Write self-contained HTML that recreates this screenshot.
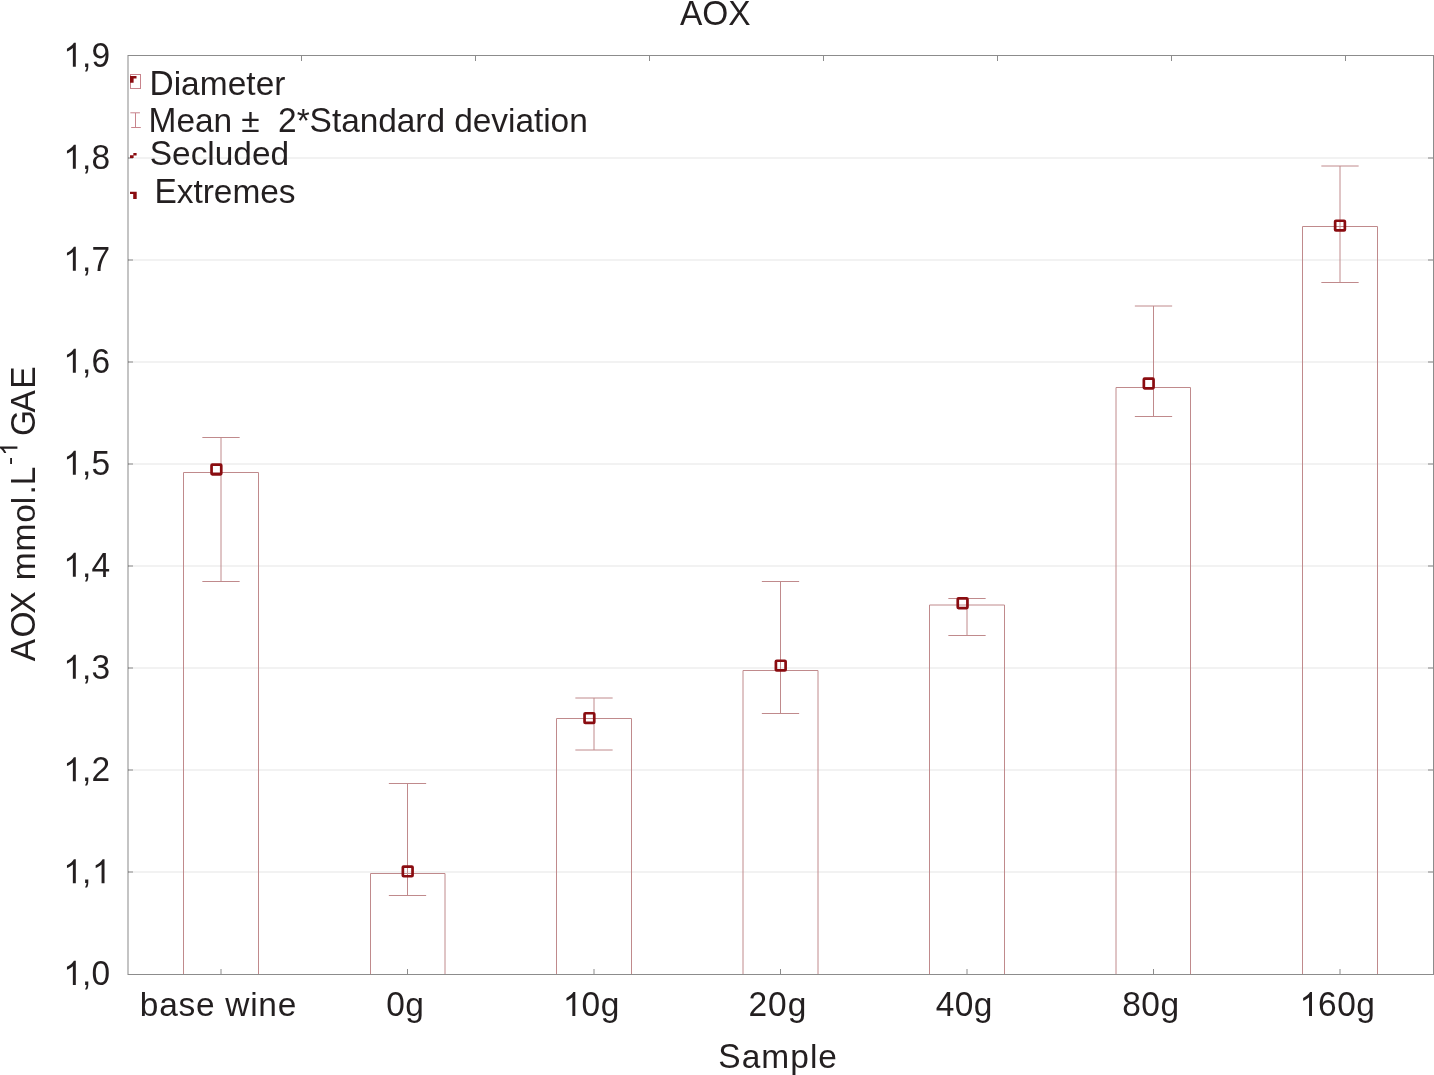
<!DOCTYPE html>
<html><head><meta charset="utf-8"><title>AOX</title>
<style>
html,body{margin:0;padding:0;background:#fff;width:1434px;height:1075px;overflow:hidden}
svg{position:absolute;left:0;top:0;will-change:transform}
.t text{font-family:"Liberation Sans",sans-serif;fill:#231f20}
</style></head><body>
<svg width="1434" height="1075" viewBox="0 0 1434 1075">
<rect x="0" y="0" width="1434" height="1075" fill="#fff"/>
<rect x="129" y="871" width="1304" height="2" fill="#f2f2f2"/>
<rect x="129" y="769" width="1304" height="2" fill="#f2f2f2"/>
<rect x="129" y="667" width="1304" height="2" fill="#f2f2f2"/>
<rect x="129" y="565" width="1304" height="2" fill="#f2f2f2"/>
<rect x="129" y="463" width="1304" height="2" fill="#f2f2f2"/>
<rect x="129" y="361" width="1304" height="2" fill="#f2f2f2"/>
<rect x="129" y="259" width="1304" height="2" fill="#f2f2f2"/>
<rect x="129" y="157" width="1304" height="2" fill="#f2f2f2"/>
<rect x="1428" y="871" width="5" height="2" fill="#bcbcbc"/>
<rect x="128" y="871" width="5" height="2" fill="#bebebe"/>
<rect x="1428" y="769" width="5" height="2" fill="#bcbcbc"/>
<rect x="128" y="769" width="5" height="2" fill="#bebebe"/>
<rect x="1428" y="667" width="5" height="2" fill="#bcbcbc"/>
<rect x="128" y="667" width="5" height="2" fill="#bebebe"/>
<rect x="1428" y="565" width="5" height="2" fill="#bcbcbc"/>
<rect x="128" y="565" width="5" height="2" fill="#bebebe"/>
<rect x="1428" y="463" width="5" height="2" fill="#bcbcbc"/>
<rect x="128" y="463" width="5" height="2" fill="#bebebe"/>
<rect x="1428" y="361" width="5" height="2" fill="#bcbcbc"/>
<rect x="128" y="361" width="5" height="2" fill="#bebebe"/>
<rect x="1428" y="259" width="5" height="2" fill="#bcbcbc"/>
<rect x="128" y="259" width="5" height="2" fill="#bebebe"/>
<rect x="1428" y="157" width="5" height="2" fill="#bcbcbc"/>
<rect x="128" y="157" width="5" height="2" fill="#bebebe"/>
<rect x="301" y="56" width="1" height="5" fill="#8c8c8c"/>
<rect x="475" y="56" width="1" height="5" fill="#8c8c8c"/>
<rect x="649" y="56" width="1" height="5" fill="#8c8c8c"/>
<rect x="823" y="56" width="1" height="5" fill="#8c8c8c"/>
<rect x="997" y="56" width="1" height="5" fill="#8c8c8c"/>
<rect x="1171" y="56" width="1" height="5" fill="#8c8c8c"/>
<rect x="1345" y="56" width="1" height="5" fill="#8c8c8c"/>
<path d="M183.50 974.5V472.5H258.50V974.5" fill="none" stroke="#c08a8c" stroke-width="1"/>
<path d="M202.35 437.5H239.65M202.35 581.5H239.65M221.0 437.5V581.5" fill="none" stroke="#c08a8c" stroke-width="1"/>
<path d="M221.0 969V974" stroke="#8c8c8c" stroke-width="1"/>
<path d="M370.50 974.5V873.5H445.00V974.5" fill="none" stroke="#c08a8c" stroke-width="1"/>
<path d="M388.85 783.5H426.15M388.85 895.5H426.15M407.5 783.5V895.5" fill="none" stroke="#c08a8c" stroke-width="1"/>
<path d="M407.5 969V974" stroke="#8c8c8c" stroke-width="1"/>
<path d="M556.50 974.5V718.5H631.50V974.5" fill="none" stroke="#c08a8c" stroke-width="1"/>
<path d="M575.35 698.0H612.65M575.35 750.0H612.65M594.0 698.0V750.0" fill="none" stroke="#c08a8c" stroke-width="1"/>
<path d="M594.0 969V974" stroke="#8c8c8c" stroke-width="1"/>
<path d="M743.00 974.5V670.5H818.00V974.5" fill="none" stroke="#c08a8c" stroke-width="1"/>
<path d="M761.85 581.5H799.15M761.85 713.5H799.15M780.5 581.5V713.5" fill="none" stroke="#c08a8c" stroke-width="1"/>
<path d="M780.5 969V974" stroke="#8c8c8c" stroke-width="1"/>
<path d="M929.50 974.5V605.0H1004.50V974.5" fill="none" stroke="#c08a8c" stroke-width="1"/>
<path d="M948.35 598.5H985.65M948.35 635.5H985.65M967.0 598.5V635.5" fill="none" stroke="#c08a8c" stroke-width="1"/>
<path d="M967.0 969V974" stroke="#8c8c8c" stroke-width="1"/>
<path d="M1116.00 974.5V387.5H1190.50V974.5" fill="none" stroke="#c08a8c" stroke-width="1"/>
<path d="M1134.85 306.0H1172.15M1134.85 416.5H1172.15M1153.5 306.0V416.5" fill="none" stroke="#c08a8c" stroke-width="1"/>
<path d="M1153.5 969V974" stroke="#8c8c8c" stroke-width="1"/>
<path d="M1302.50 974.5V226.5H1377.50V974.5" fill="none" stroke="#c08a8c" stroke-width="1"/>
<path d="M1321.35 166.0H1358.65M1321.35 282.5H1358.65M1340.0 166.0V282.5" fill="none" stroke="#c08a8c" stroke-width="1"/>
<path d="M1340.0 969V974" stroke="#8c8c8c" stroke-width="1"/>
<rect x="211.55" y="464.65" width="9.7" height="9.7" rx="0.8" fill="none" stroke="#8a0c10" stroke-width="2.7"/>
<rect x="402.85" y="866.55" width="9.7" height="9.7" rx="0.8" fill="none" stroke="#8a0c10" stroke-width="2.7"/>
<rect x="584.55" y="713.25" width="9.7" height="9.7" rx="0.8" fill="none" stroke="#8a0c10" stroke-width="2.7"/>
<rect x="775.90" y="660.75" width="9.7" height="9.7" rx="0.8" fill="none" stroke="#8a0c10" stroke-width="2.7"/>
<rect x="957.75" y="598.35" width="9.7" height="9.7" rx="0.8" fill="none" stroke="#8a0c10" stroke-width="2.7"/>
<rect x="1143.85" y="378.65" width="9.7" height="9.7" rx="0.8" fill="none" stroke="#8a0c10" stroke-width="2.7"/>
<rect x="1335.15" y="220.75" width="9.7" height="9.7" rx="0.8" fill="none" stroke="#8a0c10" stroke-width="2.7"/>
<rect x="127" y="55" width="2" height="920" fill="#c4c4c4"/>
<rect x="128" y="55" width="1306" height="1" fill="#8c8c8c"/>
<rect x="128" y="974" width="1306" height="1" fill="#8c8c8c"/>
<rect x="1433" y="55" width="1" height="920" fill="#8c8c8c"/>
<rect x="128" y="871" width="1" height="2" fill="#959595"/>
<rect x="128" y="769" width="1" height="2" fill="#959595"/>
<rect x="128" y="667" width="1" height="2" fill="#959595"/>
<rect x="128" y="565" width="1" height="2" fill="#959595"/>
<rect x="128" y="463" width="1" height="2" fill="#959595"/>
<rect x="128" y="361" width="1" height="2" fill="#959595"/>
<rect x="128" y="259" width="1" height="2" fill="#959595"/>
<rect x="128" y="157" width="1" height="2" fill="#959595"/>
<g class="t">
<path transform="translate(63.32,984.90) scale(0.01636,-0.01636)" d="M763 0H583V1147Q518 1085 412 1023Q306 961 222 930V1104Q373 1175 486 1276Q599 1377 646 1472H763Z" fill="#231f20"/><text x="81.88" y="984.90" font-size="33.5">,</text><text transform="translate(91.58,984.90) scale(1,1.0405)" font-size="33.5">0</text>
<path transform="translate(63.32,883.28) scale(0.01636,-0.01636)" d="M763 0H583V1147Q518 1085 412 1023Q306 961 222 930V1104Q373 1175 486 1276Q599 1377 646 1472H763Z" fill="#231f20"/><text x="81.88" y="883.28" font-size="33.5">,</text><path transform="translate(92.03,883.28) scale(0.01636,-0.01636)" d="M763 0H583V1147Q518 1085 412 1023Q306 961 222 930V1104Q373 1175 486 1276Q599 1377 646 1472H763Z" fill="#231f20"/>
<path transform="translate(63.32,781.31) scale(0.01636,-0.01636)" d="M763 0H583V1147Q518 1085 412 1023Q306 961 222 930V1104Q373 1175 486 1276Q599 1377 646 1472H763Z" fill="#231f20"/><text x="81.88" y="781.31" font-size="33.5">,</text><text transform="translate(91.58,781.31) scale(1,1.0405)" font-size="33.5">2</text>
<path transform="translate(63.32,678.84) scale(0.01636,-0.01636)" d="M763 0H583V1147Q518 1085 412 1023Q306 961 222 930V1104Q373 1175 486 1276Q599 1377 646 1472H763Z" fill="#231f20"/><text x="81.88" y="678.84" font-size="33.5">,</text><text transform="translate(91.58,678.84) scale(1,1.0405)" font-size="33.5">3</text>
<path transform="translate(63.32,576.82) scale(0.01636,-0.01636)" d="M763 0H583V1147Q518 1085 412 1023Q306 961 222 930V1104Q373 1175 486 1276Q599 1377 646 1472H763Z" fill="#231f20"/><text x="81.88" y="576.82" font-size="33.5">,</text><text transform="translate(91.58,576.82) scale(1,1.0405)" font-size="33.5">4</text>
<path transform="translate(63.32,474.80) scale(0.01636,-0.01636)" d="M763 0H583V1147Q518 1085 412 1023Q306 961 222 930V1104Q373 1175 486 1276Q599 1377 646 1472H763Z" fill="#231f20"/><text x="81.88" y="474.80" font-size="33.5">,</text><text transform="translate(91.58,474.80) scale(1,1.0405)" font-size="33.5">5</text>
<path transform="translate(63.32,372.78) scale(0.01636,-0.01636)" d="M763 0H583V1147Q518 1085 412 1023Q306 961 222 930V1104Q373 1175 486 1276Q599 1377 646 1472H763Z" fill="#231f20"/><text x="81.88" y="372.78" font-size="33.5">,</text><text transform="translate(91.58,372.78) scale(1,1.0405)" font-size="33.5">6</text>
<path transform="translate(63.32,270.76) scale(0.01636,-0.01636)" d="M763 0H583V1147Q518 1085 412 1023Q306 961 222 930V1104Q373 1175 486 1276Q599 1377 646 1472H763Z" fill="#231f20"/><text x="81.88" y="270.76" font-size="33.5">,</text><text transform="translate(91.58,270.76) scale(1,1.0405)" font-size="33.5">7</text>
<path transform="translate(63.32,168.74) scale(0.01636,-0.01636)" d="M763 0H583V1147Q518 1085 412 1023Q306 961 222 930V1104Q373 1175 486 1276Q599 1377 646 1472H763Z" fill="#231f20"/><text x="81.88" y="168.74" font-size="33.5">,</text><text transform="translate(91.58,168.74) scale(1,1.0405)" font-size="33.5">8</text>
<path transform="translate(63.32,66.72) scale(0.01636,-0.01636)" d="M763 0H583V1147Q518 1085 412 1023Q306 961 222 930V1104Q373 1175 486 1276Q599 1377 646 1472H763Z" fill="#231f20"/><text x="81.88" y="66.72" font-size="33.5">,</text><text transform="translate(91.58,66.72) scale(1,1.0405)" font-size="33.5">9</text>
<text transform="translate(139.84,1016.00) scale(1,0.9800)" font-size="33.5">b</text><text transform="translate(159.17,1016.00) scale(1,0.9800)" font-size="33.5">a</text><text transform="translate(178.50,1016.00) scale(1,0.9800)" font-size="33.5">s</text><text transform="translate(195.95,1016.00) scale(1,0.9800)" font-size="33.5">e</text><text transform="translate(225.29,1016.00) scale(1,0.9800)" font-size="33.5">w</text><text transform="translate(250.18,1016.00) scale(1,0.9800)" font-size="33.5">i</text><text transform="translate(258.33,1016.00) scale(1,0.9800)" font-size="33.5">n</text><text transform="translate(277.66,1016.00) scale(1,0.9800)" font-size="33.5">e</text>
<text transform="translate(386.29,1016.00) scale(1,1.0405)" font-size="33.5">0</text><text transform="translate(405.13,1016.00) scale(1,0.9800)" font-size="33.5">g</text>
<path transform="translate(562.82,1016.00) scale(0.01636,-0.01636)" d="M763 0H583V1147Q518 1085 412 1023Q306 961 222 930V1104Q373 1175 486 1276Q599 1377 646 1472H763Z" fill="#231f20"/><text transform="translate(581.55,1016.00) scale(1,1.0405)" font-size="33.5">0</text><text transform="translate(600.73,1016.00) scale(1,0.9800)" font-size="33.5">g</text>
<text transform="translate(748.52,1016.00) scale(1,1.0405)" font-size="33.5">2</text><text transform="translate(768.07,1016.00) scale(1,1.0405)" font-size="33.5">0</text><text transform="translate(787.63,1016.00) scale(1,0.9800)" font-size="33.5">g</text>
<text transform="translate(935.63,1016.00) scale(1,1.0405)" font-size="33.5">4</text><text transform="translate(954.68,1016.00) scale(1,1.0405)" font-size="33.5">0</text><text transform="translate(973.73,1016.00) scale(1,0.9800)" font-size="33.5">g</text>
<text transform="translate(1122.14,1016.00) scale(1,1.0405)" font-size="33.5">8</text><text transform="translate(1141.34,1016.00) scale(1,1.0405)" font-size="33.5">0</text><text transform="translate(1160.53,1016.00) scale(1,0.9800)" font-size="33.5">g</text>
<path transform="translate(1299.52,1016.00) scale(0.01636,-0.01636)" d="M763 0H583V1147Q518 1085 412 1023Q306 961 222 930V1104Q373 1175 486 1276Q599 1377 646 1472H763Z" fill="#231f20"/><text transform="translate(1318.12,1016.00) scale(1,1.0405)" font-size="33.5">6</text><text transform="translate(1337.17,1016.00) scale(1,1.0405)" font-size="33.5">0</text><text transform="translate(1356.23,1016.00) scale(1,0.9800)" font-size="33.5">g</text>
<text transform="translate(679.93,24.50) scale(1,1.0405)" font-size="33.5">A</text><text transform="translate(702.29,24.50) scale(1,1.0405)" font-size="33.5">O</text><text transform="translate(728.36,24.50) scale(1,1.0405)" font-size="33.5">X</text>
<text transform="translate(718.28,1067.90) scale(1,1.0405)" font-size="33.5">S</text><text transform="translate(741.65,1067.90) scale(1,0.9800)" font-size="33.5">a</text><text transform="translate(761.30,1067.90) scale(1,0.9800)" font-size="33.5">m</text><text transform="translate(790.23,1067.90) scale(1,0.9800)" font-size="33.5">p</text><text transform="translate(809.89,1067.90) scale(1,0.9800)" font-size="33.5">l</text><text transform="translate(818.36,1067.90) scale(1,0.9800)" font-size="33.5">e</text>
<text transform="translate(149.45,94.50) scale(1,1.0405)" font-size="33.5">D</text><text transform="translate(173.66,94.50) scale(1,0.9800)" font-size="33.5">i</text><text transform="translate(181.12,94.50) scale(1,0.9800)" font-size="33.5">a</text><text transform="translate(199.76,94.50) scale(1,0.9800)" font-size="33.5">m</text><text transform="translate(227.69,94.50) scale(1,0.9800)" font-size="33.5">e</text><text transform="translate(246.33,94.50) scale(1,0.9800)" font-size="33.5">t</text><text transform="translate(255.65,94.50) scale(1,0.9800)" font-size="33.5">e</text><text transform="translate(274.30,94.50) scale(1,0.9800)" font-size="33.5">r</text>
<text transform="translate(148.55,131.90) scale(1,1.0405)" font-size="33.5">M</text><text transform="translate(176.39,131.90) scale(1,0.9800)" font-size="33.5">e</text><text transform="translate(194.95,131.90) scale(1,0.9800)" font-size="33.5">a</text><text transform="translate(213.51,131.90) scale(1,0.9800)" font-size="33.5">n</text><text x="241.30" y="131.90" font-size="33.5">±</text><text transform="translate(278.09,131.90) scale(1,1.0405)" font-size="33.5">2</text><text x="296.65" y="131.90" font-size="33.5">*</text><text transform="translate(309.62,131.90) scale(1,1.0405)" font-size="33.5">S</text><text transform="translate(331.89,131.90) scale(1,0.9800)" font-size="33.5">t</text><text transform="translate(341.13,131.90) scale(1,0.9800)" font-size="33.5">a</text><text transform="translate(359.69,131.90) scale(1,0.9800)" font-size="33.5">n</text><text transform="translate(378.25,131.90) scale(1,0.9800)" font-size="33.5">d</text><text transform="translate(396.81,131.90) scale(1,0.9800)" font-size="33.5">a</text><text transform="translate(415.37,131.90) scale(1,0.9800)" font-size="33.5">r</text><text transform="translate(426.45,131.90) scale(1,0.9800)" font-size="33.5">d</text><text transform="translate(454.25,131.90) scale(1,0.9800)" font-size="33.5">d</text><text transform="translate(472.81,131.90) scale(1,0.9800)" font-size="33.5">e</text><text transform="translate(491.37,131.90) scale(1,0.9800)" font-size="33.5">v</text><text transform="translate(508.05,131.90) scale(1,0.9800)" font-size="33.5">i</text><text transform="translate(515.42,131.90) scale(1,0.9800)" font-size="33.5">a</text><text transform="translate(533.98,131.90) scale(1,0.9800)" font-size="33.5">t</text><text transform="translate(543.21,131.90) scale(1,0.9800)" font-size="33.5">i</text><text transform="translate(550.58,131.90) scale(1,0.9800)" font-size="33.5">o</text><text transform="translate(569.14,131.90) scale(1,0.9800)" font-size="33.5">n</text>
<text transform="translate(149.78,164.80) scale(1,1.0405)" font-size="33.5">S</text><text transform="translate(172.08,164.80) scale(1,0.9800)" font-size="33.5">e</text><text transform="translate(190.66,164.80) scale(1,0.9800)" font-size="33.5">c</text><text transform="translate(207.37,164.80) scale(1,0.9800)" font-size="33.5">l</text><text transform="translate(214.77,164.80) scale(1,0.9800)" font-size="33.5">u</text><text transform="translate(233.36,164.80) scale(1,0.9800)" font-size="33.5">d</text><text transform="translate(251.94,164.80) scale(1,0.9800)" font-size="33.5">e</text><text transform="translate(270.53,164.80) scale(1,0.9800)" font-size="33.5">d</text>
<text transform="translate(154.55,203.20) scale(1,1.0405)" font-size="33.5">E</text><text transform="translate(176.84,203.20) scale(1,0.9800)" font-size="33.5">x</text><text transform="translate(193.53,203.20) scale(1,0.9800)" font-size="33.5">t</text><text transform="translate(202.77,203.20) scale(1,0.9800)" font-size="33.5">r</text><text transform="translate(213.87,203.20) scale(1,0.9800)" font-size="33.5">e</text><text transform="translate(232.44,203.20) scale(1,0.9800)" font-size="33.5">m</text><text transform="translate(260.29,203.20) scale(1,0.9800)" font-size="33.5">e</text><text transform="translate(278.86,203.20) scale(1,0.9800)" font-size="33.5">s</text>
<g transform="translate(34.5,661.0) rotate(-90)"><text transform="translate(-0.17,0.00) scale(1,1.0405)" font-size="33.5">A</text><text transform="translate(23.43,0.00) scale(1,1.0405)" font-size="33.5">O</text><text transform="translate(47.35,0.00) scale(1,1.0405)" font-size="33.5">X</text><text transform="translate(80.64,0.00) scale(1,0.9800)" font-size="33.5">m</text><text transform="translate(109.39,0.00) scale(1,0.9800)" font-size="33.5">m</text><text transform="translate(138.13,0.00) scale(1,0.9800)" font-size="33.5">o</text><text transform="translate(156.87,0.00) scale(1,0.9800)" font-size="33.5">l</text><text x="166.40" y="0.00" font-size="33.5">.</text><text transform="translate(175.72,0.00) scale(1,1.0405)" font-size="33.5">L</text><text transform="translate(224.93,0.00) scale(1,1.0405)" font-size="33.5">G</text><text transform="translate(248.53,0.00) scale(1,1.0405)" font-size="33.5">A</text><text transform="translate(272.22,0.00) scale(1,1.0405)" font-size="33.5">E</text><text x="196.02" y="-17.10" font-size="24.5">-</text><path transform="translate(205.25,-17.10) scale(0.01196,-0.01196)" d="M763 0H583V1147Q518 1085 412 1023Q306 961 222 930V1104Q373 1175 486 1276Q599 1377 646 1472H763Z" fill="#231f20"/></g>
</g>
<rect x="130.5" y="74.5" width="10" height="14" fill="none" stroke="#c8848c" stroke-width="1"/>
<path d="M130 76H136.5V78.4H133.6V82.7H130Z" fill="#8a0c10"/>
<path d="M130.35 112.8H139.95M131.2 127.5H140.8M135.5 113V127" stroke="#c8848c" stroke-width="1" fill="none"/>
<path d="M130 155.3H133.6V157.9H130ZM133.35 153H136.6V155.5H133.35Z" fill="#8a0c10"/>
<path d="M130 191.8H136.7V198.9H133.2V193.9H130Z" fill="#8a0c10"/>
</svg>
</body></html>
